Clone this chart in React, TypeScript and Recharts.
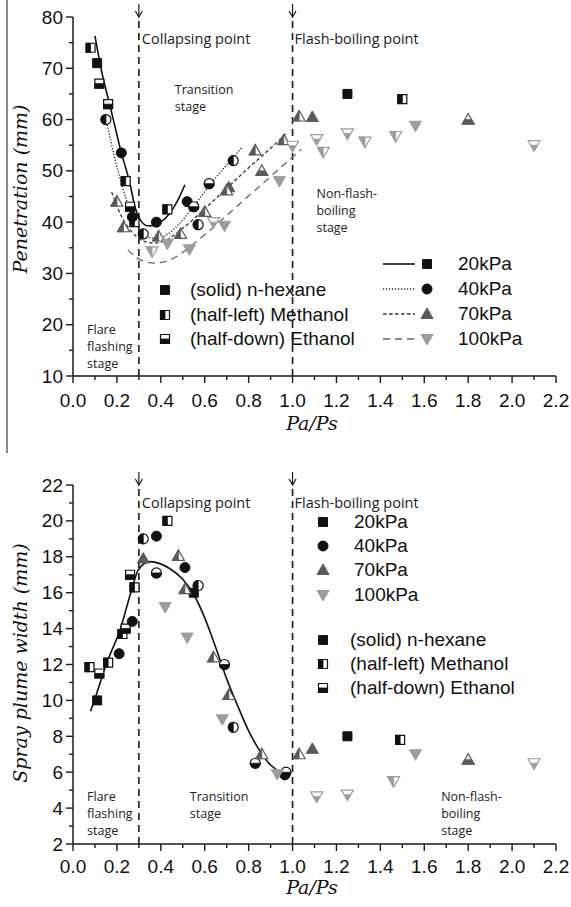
import React from "react";
import { ComposedChart, Scatter, Line, XAxis, YAxis, ReferenceLine, ReferenceDot } from "recharts";

type Pt = { x: number; y: number };
type Kind = "square" | "circle" | "up" | "down";
type Fill = "solid" | "left" | "down";

// axis values
const xTicks = [0, 0.1, 0.2, 0.3, 0.4, 0.5, 0.6, 0.7, 0.8, 0.9, 1.0, 1.1, 1.2, 1.3, 1.4, 1.5, 1.6, 1.7, 1.8, 1.9, 2.0, 2.1, 2.2];
const penTicks = [10, 15, 20, 25, 30, 35, 40, 45, 50, 55, 60, 65, 70, 75, 80];
const widthTicks = [2, 3, 4, 5, 6, 7, 8, 9, 10, 11, 12, 13, 14, 15, 16, 17, 18, 19, 20, 21, 22];

const pressures = ["20kPa", "40kPa", "70kPa", "100kPa"];
const fluids = ["(solid) n-hexane", "(half-left) Methanol", "(half-down) Ethanol"];

// penetration (top panel)
const penHex20: Pt[] = [{ x: 0.11, y: 71 }, { x: 1.25, y: 65 }];
const penMeth20: Pt[] = [{ x: 0.08, y: 74 }, { x: 0.24, y: 48 }, { x: 0.28, y: 40 }, { x: 0.43, y: 42.5 }, { x: 1.5, y: 64 }];
const penEth20: Pt[] = [{ x: 0.12, y: 67 }, { x: 0.16, y: 63 }, { x: 0.26, y: 43 }];
const penHex40: Pt[] = [{ x: 0.22, y: 53.5 }, { x: 0.27, y: 41 }, { x: 0.38, y: 40 }, { x: 0.52, y: 44 }];
const penMeth40: Pt[] = [{ x: 0.15, y: 60 }, { x: 0.32, y: 37.7 }, { x: 0.57, y: 39.5 }, { x: 0.73, y: 52 }];
const penEth40: Pt[] = [{ x: 0.55, y: 43 }, { x: 0.62, y: 47.5 }];
const penHex70: Pt[] = [{ x: 0.71, y: 46.8 }, { x: 1.09, y: 60.5 }];
const penMeth70: Pt[] = [
  { x: 0.2, y: 44 }, { x: 0.23, y: 39 }, { x: 0.39, y: 37.2 }, { x: 0.49, y: 37.7 }, { x: 0.6, y: 42 },
  { x: 0.7, y: 46.2 }, { x: 0.83, y: 54 }, { x: 0.96, y: 56 }, { x: 1.03, y: 60.6 },
];
const penEth70: Pt[] = [{ x: 0.86, y: 50 }, { x: 1.8, y: 60 }];
const penHex100: Pt[] = [{ x: 0.43, y: 35.8 }, { x: 0.53, y: 34.7 }, { x: 0.69, y: 39.3 }, { x: 0.94, y: 48 }, { x: 1.56, y: 58.8 }];
const penMeth100: Pt[] = [{ x: 0.36, y: 34.3 }, { x: 1.14, y: 53.7 }, { x: 1.33, y: 55.7 }, { x: 1.47, y: 56.8 }];
const penEth100: Pt[] = [{ x: 0.64, y: 40 }, { x: 1.0, y: 54.9 }, { x: 1.11, y: 56.2 }, { x: 1.25, y: 57.3 }, { x: 2.1, y: 55 }];

const penFit20: Pt[] = [
  { x: 0.1, y: 76.3 }, { x: 0.13, y: 69.5 }, { x: 0.168, y: 62.8 }, { x: 0.221, y: 53.4 }, { x: 0.259, y: 47.6 },
  { x: 0.282, y: 43 }, { x: 0.312, y: 40.1 }, { x: 0.34, y: 39.3 }, { x: 0.37, y: 39.3 }, { x: 0.4, y: 40 },
  { x: 0.44, y: 41.7 }, { x: 0.48, y: 44.5 }, { x: 0.51, y: 47.3 },
];
const penFit40: Pt[] = [
  { x: 0.153, y: 59.6 }, { x: 0.2, y: 50.8 }, { x: 0.244, y: 44.3 }, { x: 0.29, y: 39.5 }, { x: 0.335, y: 37.2 },
  { x: 0.38, y: 36.8 }, { x: 0.43, y: 37.6 }, { x: 0.48, y: 39.5 }, { x: 0.53, y: 42 }, { x: 0.58, y: 44.8 },
  { x: 0.63, y: 47.6 }, { x: 0.68, y: 50.2 }, { x: 0.73, y: 52.6 }, { x: 0.77, y: 54.6 },
];
const penFit70: Pt[] = [
  { x: 0.176, y: 45.9 }, { x: 0.22, y: 41.2 }, { x: 0.27, y: 38 }, { x: 0.32, y: 36.3 }, { x: 0.37, y: 35.9 },
  { x: 0.42, y: 36.4 }, { x: 0.5, y: 38.8 }, { x: 0.6, y: 42.6 }, { x: 0.7, y: 46.6 }, { x: 0.8, y: 50.6 },
  { x: 0.9, y: 54.4 }, { x: 0.97, y: 57.2 },
];
const penFit100: Pt[] = [
  { x: 0.25, y: 34.6 }, { x: 0.3, y: 32.8 }, { x: 0.37, y: 32 }, { x: 0.45, y: 32.8 }, { x: 0.55, y: 35.8 },
  { x: 0.65, y: 39.4 }, { x: 0.75, y: 43.2 }, { x: 0.85, y: 47 }, { x: 0.95, y: 50.8 }, { x: 1.04, y: 54.2 },
];

// spray plume width (bottom panel)
const widHex20: Pt[] = [{ x: 0.11, y: 10 }, { x: 0.55, y: 16 }, { x: 1.25, y: 8 }];
const widMeth20: Pt[] = [{ x: 0.075, y: 11.85 }, { x: 0.16, y: 12.1 }, { x: 0.225, y: 13.7 }, { x: 0.28, y: 16.3 }, { x: 0.43, y: 20 }, { x: 1.49, y: 7.8 }];
const widEth20: Pt[] = [{ x: 0.12, y: 11.5 }, { x: 0.24, y: 14 }, { x: 0.26, y: 17 }];
const widHex40: Pt[] = [{ x: 0.21, y: 12.6 }, { x: 0.27, y: 14.4 }, { x: 0.38, y: 19.15 }, { x: 0.51, y: 17.4 }, { x: 0.965, y: 5.85 }];
const widMeth40: Pt[] = [{ x: 0.32, y: 19 }, { x: 0.57, y: 16.4 }, { x: 0.73, y: 8.5 }];
const widEth40: Pt[] = [{ x: 0.38, y: 17.1 }, { x: 0.69, y: 12 }, { x: 0.83, y: 6.5 }, { x: 0.97, y: 6.0 }];
const widHex70: Pt[] = [{ x: 0.32, y: 17.9 }, { x: 1.09, y: 7.3 }];
const widMeth70: Pt[] = [{ x: 0.48, y: 18.05 }, { x: 0.51, y: 16.2 }, { x: 0.64, y: 12.4 }, { x: 0.71, y: 10.3 }, { x: 0.86, y: 7.0 }, { x: 1.03, y: 7.0 }];
const widEth70: Pt[] = [{ x: 1.8, y: 6.7 }];
const widHex100: Pt[] = [{ x: 0.42, y: 15.2 }, { x: 0.52, y: 13.5 }, { x: 0.68, y: 8.95 }, { x: 0.93, y: 5.9 }, { x: 1.56, y: 7.0 }];
const widMeth100: Pt[] = [{ x: 1.46, y: 5.5 }];
const widEth100: Pt[] = [{ x: 1.11, y: 4.65 }, { x: 1.25, y: 4.75 }, { x: 2.1, y: 6.5 }];

const widFit: Pt[] = [
  { x: 0.08, y: 9.4 }, { x: 0.1, y: 10.1 }, { x: 0.153, y: 12.07 }, { x: 0.214, y: 13.92 }, { x: 0.267, y: 16.15 },
  { x: 0.297, y: 17.26 }, { x: 0.35, y: 17.73 }, { x: 0.44, y: 17.35 }, { x: 0.5, y: 16.75 }, { x: 0.55, y: 15.9 },
  { x: 0.6, y: 14.6 }, { x: 0.65, y: 12.95 }, { x: 0.7, y: 11.2 }, { x: 0.75, y: 9.7 }, { x: 0.8, y: 8.3 },
  { x: 0.85, y: 7.2 }, { x: 0.9, y: 6.4 }, { x: 0.95, y: 6.0 }, { x: 0.99, y: 5.9 },
];

const INK = "#111";
const G70 = "#5a5a5a";
const G100 = "#9d9d9d";
const AX = "#1a1a1a";
const SANS = "'Liberation Sans', Arial, sans-serif";
const SERIF = "'DejaVu Serif', serif";
const NOTE = "'Open Sans', 'Noto Sans', sans-serif";

const kinds: Kind[] = ["square", "circle", "up", "down"];
const colors = [INK, INK, G70, G100];
const fills: Fill[] = ["solid", "left", "down"];

const penData = [
  [penHex20, penMeth20, penEth20],
  [penHex40, penMeth40, penEth40],
  [penHex70, penMeth70, penEth70],
  [penHex100, penMeth100, penEth100],
];
const widData = [
  [widHex20, widMeth20, widEth20],
  [widHex40, widMeth40, widEth40],
  [widHex70, widMeth70, widEth70],
  [widHex100, widMeth100, widEth100],
];

const lineStyles = [
  { stroke: INK, dash: undefined as string | undefined, w: 1.6 },
  { stroke: "#222", dash: "1.2 1.8", w: 1.4 },
  { stroke: "#333", dash: "3.5 2.5", w: 1.3 },
  { stroke: "#666", dash: "7 5", w: 1.3 },
];
const penFits = [penFit20, penFit40, penFit70, penFit100];

function markerPaths(kind: Kind, cx: number, cy: number) {
  if (kind === "square") {
    const s = 4.5;
    return {
      outline: `M${cx - s},${cy - s}h${2 * s}v${2 * s}h${-2 * s}Z`,
      left: `M${cx - s},${cy - s}h${s}v${2 * s}h${-s}Z`,
      bottom: `M${cx - s},${cy}h${2 * s}v${s}h${-2 * s}Z`,
    };
  }
  if (kind === "circle") {
    const r = 5;
    return {
      outline: `M${cx - r},${cy}a${r},${r} 0 1,0 ${2 * r},0a${r},${r} 0 1,0 ${-2 * r},0Z`,
      left: `M${cx},${cy - r}A${r},${r} 0 0,0 ${cx},${cy + r}Z`,
      bottom: `M${cx - r},${cy}A${r},${r} 0 0,0 ${cx + r},${cy}Z`,
    };
  }
  const w = 6;
  if (kind === "up") {
    const t = cy - 6, b = cy + 4.5;
    const wm = (w * (cy - t)) / (b - t);
    return {
      outline: `M${cx},${t}L${cx + w},${b}L${cx - w},${b}Z`,
      left: `M${cx},${t}L${cx},${b}L${cx - w},${b}Z`,
      bottom: `M${cx - wm},${cy}L${cx + wm},${cy}L${cx + w},${b}L${cx - w},${b}Z`,
    };
  }
  const t = cy - 4.5, b = cy + 6;
  const wm = (w * (b - cy)) / (b - t);
  return {
    outline: `M${cx - w},${t}L${cx + w},${t}L${cx},${b}Z`,
    left: `M${cx - w},${t}L${cx},${t}L${cx},${b}Z`,
    bottom: `M${cx - wm},${cy}L${cx + wm},${cy}L${cx},${b}Z`,
  };
}

function Marker({ cx, cy, kind, fill, color }: { cx?: number; cy?: number; kind: Kind; fill: Fill; color: string }) {
  if (cx == null || cy == null) return null;
  const p = markerPaths(kind, cx, cy);
  if (fill === "solid") return <path d={p.outline} fill={color} stroke={color} strokeWidth={1} />;
  return (
    <g>
      <path d={p.outline} fill="#fff" stroke={color} strokeWidth={1.2} />
      <path d={fill === "left" ? p.left : p.bottom} fill={color} stroke={color} strokeWidth={0.8} />
    </g>
  );
}

function bottomTick(labelDy: number) {
  return (p: any) => {
    const v = p.payload.value;
    const major = Math.round(v * 10) % 2 === 0;
    return (
      <g>
        <line x1={p.x} x2={p.x} y1={p.y} y2={p.y + (major ? 7 : 4)} stroke={AX} strokeWidth={1.4} />
        {major && (
          <text x={p.x} y={p.y + labelDy} textAnchor="middle" dominantBaseline="central" fontSize={19} fontFamily={SANS} fill={INK}>
            {v.toFixed(1)}
          </text>
        )}
      </g>
    );
  };
}
const topTick = (p: any) => {
  const major = Math.round(p.payload.value * 10) % 2 === 0;
  return <line x1={p.x} x2={p.x} y1={p.y} y2={p.y + (major ? 7 : 4)} stroke={AX} strokeWidth={1.4} />;
};
function leftTick(step: number) {
  return (p: any) => {
    const v = p.payload.value;
    const major = v % step === 0;
    return (
      <g>
        <line x1={p.x} x2={p.x - (major ? 7 : 4)} y1={p.y} y2={p.y} stroke={AX} strokeWidth={1.4} />
        {major && (
          <text x={p.x - 10} y={p.y} textAnchor="end" dominantBaseline="central" fontSize={19} fontFamily={SANS} fill={INK}>
            {v}
          </text>
        )}
      </g>
    );
  };
}
function rightTick(step: number) {
  return (p: any) => {
    const major = p.payload.value % step === 0;
    return <line x1={p.x} x2={p.x - (major ? 7 : 4)} y1={p.y} y2={p.y} stroke={AX} strokeWidth={1.4} />;
  };
}

const pointLabel = (text: string, dy: number, dx: number) => (p: any) => {
  const { x, y } = p.viewBox;
  return (
    <g>
      <line x1={x} x2={x} y1={y - 13} y2={y} stroke={AX} strokeWidth={1.2} />
      <path d={`M${x - 3.5},${y - 6}L${x},${y}L${x + 3.5},${y - 6}`} fill="none" stroke={AX} strokeWidth={1.2} />
      <text x={x + dx} y={y + dy} fontSize={14.5} fontFamily={NOTE} dominantBaseline="central" fill="#222">
        {text}
      </text>
    </g>
  );
};

const stageLabel = (lines: string[]) => (p: any) => {
  const { x, y } = p.viewBox;
  return (
    <text fontSize={12.5} fontFamily={NOTE} fill="#222">
      {lines.map((l, i) => (
        <tspan key={i} x={x} y={y + i * 17} dominantBaseline="central">
          {l}
        </tspan>
      ))}
    </text>
  );
};

type Stage = { x: number; y: number; lines: string[] };

function Panel(props: {
  top: number;
  height: number;
  marginTop: number;
  xAxisH: number;
  yDomain: [number, number];
  yTicks: number[];
  yStep: number;
  data: Pt[][][];
  fits: { data: Pt[]; stroke: string; dash?: string; w: number }[];
  yLabel: string;
  yLabelY: number;
  xLabelDy: number;
  tickDy: number;
  pointDy: number;
  stages: Stage[];
}) {
  return (
    <div style={{ position: "absolute", left: 0, top: props.top }}>
      <ComposedChart width={571} height={props.height} margin={{ top: props.marginTop, right: 15, bottom: 0, left: 0 }}>
        <XAxis
          dataKey="x"
          type="number"
          domain={[0, 2.2]}
          ticks={xTicks}
          interval={0}
          height={props.xAxisH}
          tickSize={0}
          tickMargin={0}
          tickLine={false}
          axisLine={{ stroke: AX, strokeWidth: 1.5 }}
          tick={bottomTick(props.tickDy)}
          label={(p: any) => (
            <text x={312} y={p.viewBox.y + props.xLabelDy} textAnchor="middle" dominantBaseline="central" fontSize={19} fontStyle="italic" fontFamily={SERIF} fill={INK}>
              Pa/Ps
            </text>
          )}
        />
        <XAxis
          xAxisId="top"
          orientation="top"
          dataKey="x"
          type="number"
          domain={[0, 2.2]}
          ticks={xTicks}
          interval={0}
          height={0}
          tickSize={0}
          tickMargin={0}
          tickLine={false}
          axisLine={{ stroke: AX, strokeWidth: 1.5 }}
          tick={topTick}
        />
        <YAxis
          dataKey="y"
          type="number"
          domain={props.yDomain}
          ticks={props.yTicks}
          interval={0}
          width={73}
          tickSize={0}
          tickMargin={0}
          tickLine={false}
          axisLine={{ stroke: AX, strokeWidth: 1.5 }}
          tick={leftTick(props.yStep)}
          label={() => (
            <text
              x={20}
              y={props.yLabelY}
              transform={`rotate(-90 20 ${props.yLabelY})`}
              textAnchor="middle"
              dominantBaseline="central"
              fontSize={19}
              fontStyle="italic"
              fontFamily={SERIF}
              fill={INK}
            >
              {props.yLabel}
            </text>
          )}
        />
        <YAxis
          yAxisId="right"
          orientation="right"
          dataKey="y"
          type="number"
          domain={props.yDomain}
          ticks={props.yTicks}
          interval={0}
          width={0}
          tickSize={0}
          tickMargin={0}
          tickLine={false}
          axisLine={{ stroke: AX, strokeWidth: 1.5 }}
          tick={rightTick(props.yStep)}
        />
        <ReferenceLine x={0.3} stroke={AX} strokeWidth={1.6} strokeDasharray="7 5" label={pointLabel("Collapsing point", props.pointDy, 3)} />
        <ReferenceLine x={1.0} stroke={AX} strokeWidth={1.6} strokeDasharray="7 5" label={pointLabel("Flash-boiling point", props.pointDy, 2)} />
        {props.stages.map((s, i) => (
          <ReferenceDot key={"st" + i} x={s.x} y={s.y} r={0} fill="none" stroke="none" label={stageLabel(s.lines)} />
        ))}
        {props.fits.map((f, i) => (
          <Line
            key={"fit" + i}
            data={f.data}
            dataKey="y"
            type="monotone"
            stroke={f.stroke}
            strokeWidth={f.w}
            strokeDasharray={f.dash}
            dot={false}
            activeDot={false}
            isAnimationActive={false}
          />
        ))}
        {props.data.map((row, pi) =>
          row.map((d, fi) => (
            <Scatter
              key={`s${pi}-${fi}`}
              name={`${pressures[pi]} ${fluids[fi]}`}
              data={d}
              isAnimationActive={false}
              shape={(sp: any) => <Marker cx={sp.cx} cy={sp.cy} kind={kinds[pi]} fill={fills[fi]} color={colors[pi]} />}
            />
          ))
        )}
      </ComposedChart>
    </div>
  );
}

function Icon({ kind, fill, color }: { kind: Kind; fill: Fill; color: string }) {
  return (
    <svg width={16} height={16} style={{ display: "block" }}>
      <Marker cx={8} cy={8} kind={kind} fill={fill} color={color} />
    </svg>
  );
}

const textStyle: React.CSSProperties = {
  position: "absolute",
  fontFamily: SANS,
  fontSize: 19,
  lineHeight: "16px",
  color: INK,
  whiteSpace: "nowrap",
};

function LegendRow({ cx, cy, tx, label, children }: { cx: number; cy: number; tx: number; label: string; children: React.ReactNode }) {
  return (
    <>
      <div style={{ position: "absolute", left: cx - 8, top: cy - 8 }}>{children}</div>
      <div style={{ ...textStyle, left: tx, top: cy - 8 }}>{label}</div>
    </>
  );
}

export default function App() {
  const topRowsRight = [264, 289, 314, 339];
  const topRowsLeft = [290, 315, 339];
  const botRowsP = [522, 546, 570, 595];
  const botRowsF = [640, 664, 688];
  return (
    <div style={{ position: "absolute", left: 0, top: 0, width: 571, height: 907, background: "#fff", overflow: "hidden" }}>
      <div style={{ position: "absolute", left: 6, top: 0, width: 1.5, height: 453, background: "#8a8a8a" }} />
      <Panel
        top={0}
        height={455}
        marginTop={17}
        xAxisH={79}
        yDomain={[10, 80]}
        yTicks={penTicks}
        yStep={10}
        data={penData}
        fits={penFits.map((d, i) => ({ data: d, ...lineStyles[i] }))}
        yLabel="Penetration (mm)"
        yLabelY={189}
        xLabelDy={47}
        tickDy={24}
        pointDy={21}
        stages={[
          { x: 0.464, y: 65.8, lines: ["Transition", "stage"] },
          { x: 1.109, y: 45.5, lines: ["Non-flash-", "boiling", "stage"] },
          { x: 0.064, y: 19.0, lines: ["Flare", "flashing", "stage"] },
        ]}
      />
      <Panel
        top={460}
        height={447}
        marginTop={25}
        xAxisH={63}
        yDomain={[2, 22]}
        yTicks={widthTicks}
        yStep={2}
        data={widData}
        fits={[{ data: widFit, stroke: INK, w: 1.6 }]}
        yLabel="Spray plume width (mm)"
        yLabelY={203}
        xLabelDy={43}
        tickDy={22}
        pointDy={17}
        stages={[
          { x: 0.064, y: 4.62, lines: ["Flare", "flashing", "stage"] },
          { x: 0.532, y: 4.62, lines: ["Transition", "stage"] },
          { x: 1.677, y: 4.62, lines: ["Non-flash-", "boiling", "stage"] },
        ]}
      />
      {/* top legend */}
      {fluids.map((f, i) => (
        <LegendRow key={"tf" + i} cx={165} cy={topRowsLeft[i]} tx={190} label={f}>
          <Icon kind="square" fill={fills[i]} color={INK} />
        </LegendRow>
      ))}
      {pressures.map((p, i) => (
        <React.Fragment key={"tp" + i}>
          <svg style={{ position: "absolute", left: 382, top: topRowsRight[i] - 3 }} width={34} height={6}>
            <line x1={1} x2={33} y1={3} y2={3} stroke={lineStyles[i].stroke} strokeWidth={lineStyles[i].w} strokeDasharray={lineStyles[i].dash} />
          </svg>
          <LegendRow cx={427} cy={topRowsRight[i]} tx={458} label={p}>
            <Icon kind={kinds[i]} fill="solid" color={colors[i]} />
          </LegendRow>
        </React.Fragment>
      ))}
      {/* bottom legend */}
      {pressures.map((p, i) => (
        <LegendRow key={"bp" + i} cx={323} cy={botRowsP[i]} tx={354} label={p}>
          <Icon kind={kinds[i]} fill="solid" color={colors[i]} />
        </LegendRow>
      ))}
      {fluids.map((f, i) => (
        <LegendRow key={"bf" + i} cx={323} cy={botRowsF[i]} tx={350} label={f}>
          <Icon kind="square" fill={fills[i]} color={INK} />
        </LegendRow>
      ))}
    </div>
  );
}
